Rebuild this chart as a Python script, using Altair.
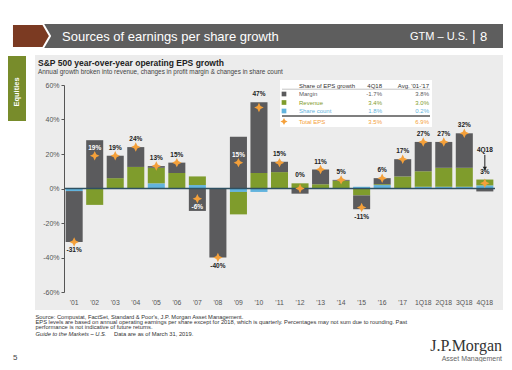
import altair as alt
import pandas as pd

# ---------------- data ----------------
categories = ["'01", "'02", "'03", "'04", "'05", "'06", "'07", "'08", "'09", "'10",
              "'11", "'12", "'13", "'14", "'15", "'16", "'17", "1Q18", "2Q18", "3Q18", "4Q18"]
margin = [-29.5, 28, 13, 11.5, 1, 6, -13, -40, 30, 41, 6, -3, 8.5, 0.5, -8, 3.5, 10, 17, 15, 20, -1.7]
revenue = [0, -9.5, 6, 12.5, 9, 9, 5, 0, -13, 9, 9.5, 3, 2.5, 4.5, -4, 0.5, 7, 9, 11, 11, 3.4]
share_count = [-1.5, 0, 0, 0, 3, 0, 2, 0, -2, -2, 0, 0, 0, 0, 1, 2, 0, 1, 1, 1, 1.8]
total_eps = [-31, 19, 19, 24, 13, 15, -6, -40, 15, 47, 15, 0, 11, 5, -11, 6, 17, 27, 27, 32, 3]

components = ["Share count", "Revenue", "Margin"]
comp_colors = ["#62b4de", "#7f9c2c", "#5b5b5d"]
total_color = "#f4a03a"

legend_names = ["Margin", "Revenue", "Share count", "Total EPS"]
legend_colors = ["#5b5b5d", "#7f9c2c", "#62b4de", "#f4a03a"]
legend_q = ["-1.7%", "3.4%", "1.8%", "3.5%"]
legend_avg = ["3.8%", "3.0%", "0.2%", "6.9%"]

y_ticks = [-60, -40, -20, 0, 20, 40, 60]

footer_lines = [
    "Source: Compustat, FactSet, Standard & Poor's, J.P. Morgan Asset Management.",
    "EPS levels are based on annual operating earnings per share except for 2018, which is quarterly. Percentages may not sum due to rounding. Past",
    "performance is not indicative of future returns.",
]
footer_italic = "Guide to the Markets – U.S."
footer_last = "Data are as of March 31, 2019."

FONT = "Liberation Sans"

# ---------------- tables ----------------
rows = []
series = [share_count, revenue, margin]
for i, c in enumerate(categories):
    for k, name in enumerate(components):
        rows.append({"cat": c, "comp": name, "value": series[k][i], "ord": k})
bars_df = pd.DataFrame(rows)

trows = []
for i, c in enumerate(categories):
    vals = [share_count[i], revenue[i], margin[i]]
    pos_top = sum(v for v in vals if v > 0)
    neg_bot = sum(v for v in vals if v < 0)
    t = total_eps[i]
    if t >= 0:
        inside = (pos_top - t) > 4
        anchor = t if inside else max(pos_top, t)
        side = "up"
    else:
        inside = (t - neg_bot) > 4
        anchor = t if inside else min(neg_bot, t)
        side = "down"
    trows.append({"cat": c, "total": t, "label": f"{t}%", "anchor": anchor,
                  "side": side, "inside": bool(inside)})
tot_df = pd.DataFrame(trows)

one = pd.DataFrame({"a": [0]})

yscale = alt.Scale(domain=[-60, 60], nice=False)
yaxis = alt.Axis(title=None, values=y_ticks, labelExpr="datum.value + '%'",
                 grid=False, domainColor="#555", tickColor="#555", tickSize=3,
                 labelFontSize=7, labelColor="#555", labelFont=FONT,
                 labelPadding=2, zindex=1)
xscale = alt.Scale(paddingInner=0.17, paddingOuter=0.08)
X = alt.X("cat:N", sort=categories, scale=xscale,
          axis=alt.Axis(title=None, labelAngle=0, domain=False, ticks=False,
                        labelFontSize=6.8, labelColor="#555", labelPadding=7,
                        labelFont=FONT, zindex=1))


def Y(field, **kw):
    return alt.Y(field, scale=yscale, axis=yaxis, title=None, **kw)


def rect(x1, y1, x2, y2, color):
    return alt.Chart(one).mark_rect(color=color).encode(
        x=alt.value(x1), x2=alt.value(x2), y=alt.value(y1), y2=alt.value(y2))


def text(s, x, y, size, color="#333", align="left", bold=False, italic=False,
         font=FONT, angle=0):
    kw = dict(text=s, align=align, baseline="middle", fontSize=size, color=color,
              font=font, fontWeight="bold" if bold else "normal")
    if italic:
        kw["fontStyle"] = "italic"
    if angle:
        kw["angle"] = angle
    return alt.Chart(one).mark_text(**kw).encode(x=alt.value(x), y=alt.value(y))


def hline(x1, x2, y, color, w):
    return alt.Chart(one).mark_rule(color=color, strokeWidth=w).encode(
        x=alt.value(x1), x2=alt.value(x2), y=alt.value(y))


layers = []
# slide decoration
layers.append(rect(-29, -30, 439, 225, "#ececec"))
layers.append(rect(-20, -61, 439, -37, "#5e5e5e"))
layers.append(alt.Chart(one).mark_point(
    shape="M-1.58,-1 L1.0,-1 L1.58,0 L1.0,1 L-1.58,1 Z", size=580, filled=True,
    fill="#7b3a22", stroke="white", strokeWidth=2, opacity=1).encode(
    x=alt.value(-33), y=alt.value(-49)))
layers.append(text("Sources of earnings per share growth", -2, -48, 13, "white"))
layers.append(text("GTM – U.S.", 346, -48, 11, "white"))
layers.append(text("|", 408, -48, 14, "white"))
layers.append(text("8", 416, -48, 13, "white"))
layers.append(rect(-56, -29, -38, 36, "#788c2b"))
layers.append(text("Equities", -47, 7, 7.5, "white", align="center", bold=True, angle=270))
layers.append(text("S&P 500 year-over-year operating EPS growth", -26, -22, 8.5, "#222", bold=True))
layers.append(text("Annual growth broken into revenue,  changes in profit margin & changes in share count",
                   -26, -13, 6.4, "#444"))

# bars
layers.append(alt.Chart(bars_df).mark_bar().encode(
    x=X,
    y=Y("value:Q", stack="zero"),
    color=alt.Color("comp:N", scale=alt.Scale(domain=components, range=comp_colors), legend=None),
    order=alt.Order("ord:Q"),
))
# zero line
zero_df = pd.DataFrame({"z": [0]})
layers.append(alt.Chart(zero_df).mark_rule(color="#2f5061", strokeWidth=1.5).encode(
    y=Y("z:Q")))

# total markers
star = "M0,-1 L0.32,-0.32 L1,0 L0.32,0.32 L0,1 L-0.32,0.32 L-1,0 L-0.32,-0.32 Z"
layers.append(alt.Chart(tot_df).mark_point(shape=star, size=90, filled=True,
                                           color=total_color, opacity=1).encode(
    x=X, y=Y("total:Q")))

for side, dy in (("up", -8), ("down", 8)):
    layers.append(alt.Chart(tot_df).transform_filter(f"datum.side == '{side}'").mark_text(
        fontSize=6.5, fontWeight="bold", font=FONT, dy=dy, baseline="middle").encode(
        x=X, y=Y("anchor:Q"), text="label:N",
        color=alt.condition("datum.inside", alt.value("white"), alt.value("#222"))))

# 4Q18 annotation
ann = pd.DataFrame({"cat": ["4Q18"], "t": [22.5], "y1": [19.5], "y2": [11.5]})
layers.append(alt.Chart(ann).mark_text(text="4Q18", fontSize=6.5, fontWeight="bold",
                                        font=FONT, color="#222").encode(
    x=X, y=Y("t:Q")))
layers.append(alt.Chart(ann).mark_rule(color="#222", strokeWidth=1).encode(
    x=X, y=Y("y1:Q"), y2="y2:Q"))
layers.append(alt.Chart(ann).mark_point(shape="triangle-down", size=18, filled=True,
                                         color="#222", opacity=1).encode(
    x=X, y=Y("y2:Q")))

# legend table
layers.append(rect(216, -5, 368, 42, "white"))
layers.append(text("Share of EPS growth", 235, 0.5, 6, "#333"))
layers.append(text("4Q18", 318, 0.5, 6, "#333", align="right"))
layers.append(text("Avg. '01-'17", 365, 0.5, 6, "#333", align="right"))
layers.append(hline(218, 366, 4.2, "#aaaaaa", 0.7))
row_y = [9, 17.5, 26, 36.5]
for i, name in enumerate(legend_names):
    yy = row_y[i]
    if i < 3:
        layers.append(alt.Chart(one).mark_square(size=22, color=legend_colors[i], opacity=1).encode(
            x=alt.value(220), y=alt.value(yy)))
    else:
        layers.append(alt.Chart(one).mark_point(shape=star, size=50, filled=True,
                                                 color=total_color, opacity=1).encode(
            x=alt.value(220), y=alt.value(yy)))
    layers.append(text(name, 235, yy, 6, legend_colors[i]))
    layers.append(text(legend_q[i], 318, yy, 6, legend_colors[i], align="right"))
    layers.append(text(legend_avg[i], 365, yy, 6, legend_colors[i], align="right"))
layers.append(hline(218, 366, 31, "#555555", 1.5))

# footer
fy = [231.7, 236.7, 241.7]
for s, yy in zip(footer_lines, fy):
    layers.append(text(s, -28.5, yy, 5.75, "#333"))
layers.append(text(footer_italic, -28.5, 249, 5.75, "#333", italic=True))
layers.append(text(footer_last, 50, 249, 5.75, "#333"))
layers.append(text("5", -51, 273, 8, "#444"))
layers.append(text("J.P.Morgan", 438, 261, 16, "#333", align="right", font="Liberation Serif"))
layers.append(text("Asset Management", 438, 273.5, 7, "#666", align="right"))

chart = alt.layer(*layers).properties(
    width=431, height=207,
    autosize=alt.AutoSizeParams(type="none"),
    padding={"left": 56, "top": 77, "right": 9, "bottom": 70},
    background="white",
).configure_view(stroke=None)

chart.save("out.html", embed_options={"renderer": "svg", "actions": False})
